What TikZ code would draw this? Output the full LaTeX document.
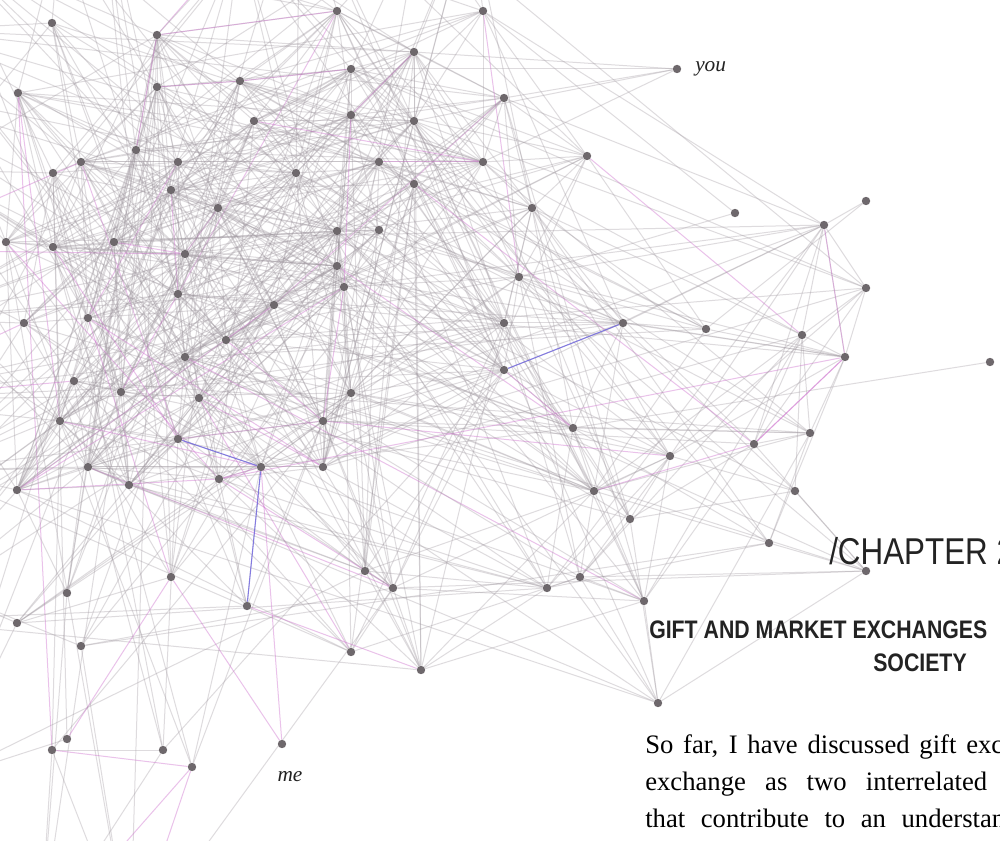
\documentclass[tikz,border=0pt]{standalone}
\usepackage{fontspec}
\setmainfont{Liberation Serif}
\newfontfamily\headfont[FakeStretch=0.84]{Liberation Sans}
\usetikzlibrary{backgrounds}

\definecolor{edgegray}{RGB}{160,152,160}
\definecolor{edgepink}{RGB}{205,110,205}
\definecolor{edgeblue}{RGB}{110,100,225}
\definecolor{dotgray}{RGB}{110,104,108}
\definecolor{inkdark}{RGB}{35,35,35}

\tikzset{
  dot/.style={circle, inner sep=0pt, minimum size=6.3pt, fill=dotgray},
  edge/.style={line width=0.75pt, draw=edgegray, draw opacity=0.34},
  pinkedge/.style={line width=0.75pt, draw=edgepink, draw opacity=0.42},
  blueedge/.style={line width=0.8pt, draw=edgeblue, draw opacity=0.8},
  lbl/.style={inner sep=0pt, font=\fontsize{16}{19}\selectfont\itshape, text=inkdark},
  bodytext/.style={inner sep=0pt, anchor=base west, font=\fontsize{20}{24}\selectfont, text=black},
  headtext/.style={inner sep=0pt, anchor=base west, text=inkdark},
}

% node positions in pixels (y grows downwards); 0-91 are drawn,
% 92-110 lie outside the page and only anchor edges
\def\NX{{52,157,337,483,677,504,351,18,157,240,254,351,414,414,136,81,178,53,296,379,483,587,414,171,218,532,337,379,6,53,114,185,337,344,519,178,274,24,88,226,185,74,121,199,351,60,323,178,261,323,88,219,129,17,735,824,866,866,504,623,706,802,845,990,504,573,810,754,670,594,795,630,769,866,365,393,547,580,644,351,421,658,67,171,247,17,81,282,67,52,163,192,-80,-70,-90,-70,-100,-60,60,240,420,40,130,470,-150,-120,-140,-130,100,300,-60}}
\def\NY{{23,35,11,11,69,98,69,93,87,81,121,115,52,121,150,162,162,173,173,162,162,156,184,190,208,208,231,230,242,247,242,254,266,287,277,294,305,323,318,340,357,381,392,398,393,421,421,439,467,467,467,479,485,490,213,225,201,288,323,323,329,335,357,362,370,428,433,444,456,491,491,519,543,571,571,588,588,577,601,652,670,703,593,577,606,623,646,744,739,750,750,767,30,170,320,470,620,780,-70,-60,-80,940,950,-90,80,250,400,560,-120,-120,-60}}

\begin{document}
\begin{tikzpicture}[x=0.75pt,y=-0.75pt]
\useasboundingbox (0,0) rectangle (1000,841);

% store coordinates once, place the dots
\foreach \i in {0,...,110}{
  \pgfmathtruncatemacro\xx{\NX[\i]}
  \pgfmathtruncatemacro\yy{\NY[\i]}
  \expandafter\xdef\csname PX\i\endcsname{(\xx)}
  \expandafter\xdef\csname PY\i\endcsname{(\yy)}
  \expandafter\xdef\csname SK\i\endcsname{0}
  \ifnum\i<92
    \expandafter\xdef\csname WT\i\endcsname{1}
    \node[dot] (n\i) at (\xx,\yy) {};
  \else
    \expandafter\xdef\csname WT\i\endcsname{0.75}
    \coordinate (n\i) at (\xx,\yy);
  \fi
}
% sparsely linked nodes get their edges listed by hand
\foreach \k in {4,54,56,63,87}{\expandafter\xdef\csname SK\k\endcsname{1}}
% the lower left fringe is thinner
\foreach \k in {82,...,91}{\expandafter\xdef\csname WT\k\endcsname{0.6}}

\pgfmathsetseed{20}
\begin{scope}[on background layer]
  \fill[white] (0,0) rectangle (1000,841);
  % distance-weighted random mesh
  \foreach \i in {0,...,109}{
    \pgfmathtruncatemacro\ja{\i+1}
    \foreach \j in {\ja,...,110}{
      \ifnum\i<92
      \ifnum\numexpr\csname SK\i\endcsname+\csname SK\j\endcsname\relax=0
        \pgfmathsetmacro\dd{veclen((\csname PX\i\endcsname-\csname PX\j\endcsname)/100,(\csname PY\i\endcsname-\csname PY\j\endcsname)/100)}
        \pgfmathsetmacro\pp{0.85*\csname WT\i\endcsname*\csname WT\j\endcsname*exp(-\dd*0.435)}
        \pgfmathsetmacro\rr{rnd}
        \pgfmathsetmacro\cc{rnd}
        \ifdim\rr pt<\pp pt
          \ifdim\cc pt<0.045pt
            \draw[pinkedge] (n\i) -- (n\j);
          \else
            \draw[edge] (n\i) -- (n\j);
          \fi
        \fi
      \fi
      \fi
    }
  }
  % hand-placed edges
  \foreach \a/\b in {4/5,4/12,4/6,4/20,4/13,54/3,54/34,56/55,56/60,63/65}
    \draw[edge] (n\a) -- (n\b);
  \foreach \a/\b in {87/48,87/83,64/65,69/67,67/62,55/62,1/14,8/9,9/6,1/2,11/33,33/46,53/51,51/48,45/48,29/47,19/20,10/20,12/11,30/31,88/83,91/102,91/101,89/91}
    \draw[pinkedge] (n\a) -- (n\b);
  \foreach \a/\b in {64/59,47/48,48/84}
    \draw[blueedge] (n\a) -- (n\b);
\end{scope}

% labels
\node[lbl, anchor=base west] (youlbl) at (695,72) {you};
\node[lbl, anchor=base] (melbl) at (290,781) {me};

% heading
\node[headtext, font=\headfont\fontsize{28}{32}\selectfont] (chap) at (829,564) {/CHAPTER 2};
\node[headtext, font=\headfont\bfseries\fontsize{19}{22}\selectfont] (gift) at (649,638) {GIFT AND MARKET EXCHANGES};
\node[headtext, font=\headfont\bfseries\fontsize{19}{22}\selectfont] (society) at (873,671) {SOCIETY};

% body text, justified lines
\node[bodytext] (par1) at (645,753) {\makebox[268.5pt][s]{So far, I have discussed gift exc}};
\node[bodytext] (par2) at (645,790) {\makebox[256.5pt][s]{exchange as two interrelated}};
\node[bodytext] (par3) at (645,827) {\makebox[270pt][s]{that contribute to an understan}};
\end{tikzpicture}
\end{document}
